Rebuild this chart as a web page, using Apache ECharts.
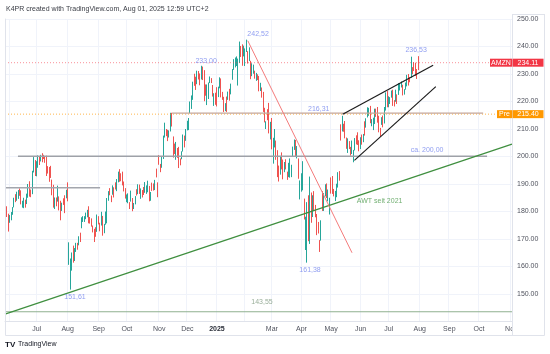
<!DOCTYPE html>
<html><head><meta charset="utf-8">
<script src="https://cdn.jsdelivr.net/npm/echarts/dist/echarts.min.js"></script>
<style>html,body{margin:0;padding:0;background:#fff}#c{width:550px;height:354px}</style>
</head><body><div id="c"></div>
<script>
// ---- calendar (trading days shown on the time scale) ----
const firstDay = '2024-05-29';
const lastDay = '2025-11-03';
const holidays = ['2024-06-19','2024-07-04','2024-09-02','2024-11-28','2024-12-25','2025-01-01','2025-01-09',
  '2025-01-20','2025-02-17','2025-04-18','2025-05-26','2025-06-19','2025-07-04','2025-09-01'];
const monthNames = ['Jan','Feb','Mar','Apr','May','Jun','Jul','Aug','Sep','Oct','Nov','Dec'];
const unlabeledMonths = ['2024-06', '2025-02'];

// ---- AMZN daily candles [open, high, low, close] ----
const may24 = [[180.5,183.0,180.0,182.0],[181.3,181.9,178.0,179.3],[178.3,179.2,172.7,176.4]];
const jun24 = [[177.7,178.7,175.9,178.3],[177.6,179.8,176.8,179.3],[180.1,181.6,178.8,181.3],[181.8,185.0,181.5,185.0],
  [184.9,186.3,183.4,184.3],[184.1,187.2,183.9,187.1],[187.1,187.8,184.6,187.2],[188.0,188.4,185.7,186.9],
  [186.1,187.7,182.6,183.8],[183.1,183.9,181.4,183.7],[182.5,185.0,181.2,184.1],[183.7,184.3,181.4,182.8],
  [182.9,186.5,182.7,186.1],[187.8,190.0,185.0,189.1],[189.3,191.0,185.4,185.6],[186.5,188.0,185.2,186.3],
  [186.9,194.8,186.3,193.6],[195.0,199.8,194.2,197.9],[197.7,198.7,192.9,193.3]];
const jul24 = [[193.5,198.3,192.8,197.2],[197.3,200.4,195.9,200.0],[199.9,200.0,196.9,197.6],[198.6,200.6,198.2,200.0],
  [200.0,201.2,197.9,199.3],[199.4,200.6,199.1,199.3],[200.0,200.1,197.7,199.8],[200.2,200.3,192.9,195.1],
  [194.8,196.5,193.8,194.5],[194.6,196.2,190.8,192.7],[195.6,196.6,192.2,193.0],[191.4,191.6,185.9,187.9],
  [189.6,189.7,181.4,183.8],[181.1,185.1,180.9,183.1],[185.0,185.1,181.9,182.6],[184.1,189.4,183.6,186.4],
  [183.2,185.5,180.4,180.8],[182.9,183.9,176.8,179.9],[180.4,183.2,180.2,182.5],[183.8,184.8,182.4,183.2],
  [184.7,185.9,179.4,181.7],[185.1,187.9,184.8,187.0]];
const aug24 = [[189.3,190.6,183.7,184.1],[166.8,168.8,160.6,167.9],[154.2,162.9,151.6,161.0],[161.7,165.1,158.5,161.9],
  [166.6,167.6,161.4,162.8],[165.2,166.7,162.0,165.8],[166.4,168.6,165.3,166.9],[168.1,168.6,166.1,166.8],
  [167.8,171.0,167.7,170.2],[172.1,172.3,168.9,170.1],[174.9,177.9,173.9,177.6],[177.0,178.3,176.2,177.1],
  [177.6,178.3,176.2,178.2],[177.9,179.6,177.2,178.9],[179.2,180.6,177.9,180.1],[181.4,181.9,175.7,176.1],
  [177.3,178.0,175.6,177.0],[176.7,177.5,174.5,175.5],[174.2,174.9,172.4,173.1],[173.7,173.7,168.9,170.8],
  [173.2,174.3,170.8,172.1],[172.8,178.9,172.6,178.5]];
const sep24 = [[177.6,178.3,175.3,176.3],[174.5,175.9,172.8,173.3],[175.0,179.9,174.9,177.9],[177.2,178.4,171.2,171.4],
  [174.5,175.5,172.1,175.4],[177.5,180.0,175.2,179.6],[180.1,184.9,175.7,184.5],[184.8,187.4,183.9,187.0],
  [187.0,188.5,185.9,186.5],[185.3,185.8,183.4,184.9],[186.9,189.5,186.1,186.9],[186.5,188.8,185.1,186.4],
  [190.0,190.6,188.0,189.9],[190.2,191.8,187.4,191.6],[191.6,194.5,190.6,193.9],[194.3,195.4,190.8,194.0],
  [193.8,193.9,191.0,192.5],[194.3,194.5,189.5,191.2],[190.7,190.9,187.3,188.0],[187.1,188.5,184.7,186.3]];
const oct24 = [[184.9,186.2,183.4,185.1],[184.4,186.6,183.0,184.8],[183.0,183.4,180.9,182.0],[185.8,187.6,183.6,186.5],
  [182.9,184.9,180.1,180.8],[181.9,183.1,180.9,182.7],[182.8,185.6,182.6,185.2],[187.1,188.1,185.8,186.7],
  [186.6,189.9,186.3,188.8],[189.8,189.8,186.4,187.5],[187.6,188.4,184.6,187.7],[187.1,187.8,185.1,186.9],
  [188.2,188.9,186.0,187.5],[187.2,190.7,186.8,189.0],[188.1,189.5,186.4,189.1],[188.4,191.2,187.0,189.7],
  [188.9,189.3,183.7,184.7],[185.3,187.1,183.9,186.4],[187.9,190.5,187.5,187.8],[189.6,190.2,187.6,188.4],
  [188.6,191.5,187.8,190.8],[194.7,195.6,192.4,192.7],[190.5,190.6,185.2,186.4]];
const nov24 = [[199.0,200.5,197.0,197.9],[196.5,197.3,194.3,195.8],[196.0,199.8,195.9,199.5],[200.0,207.6,199.1,207.1],
  [207.4,212.3,206.9,210.1],[209.7,210.0,207.4,208.2],[208.5,209.7,205.6,206.8],[208.4,209.5,206.9,208.9],
  [209.4,215.9,209.1,214.1],[214.2,215.9,210.9,211.5],[206.8,207.3,199.6,202.6],[204.2,204.7,200.9,201.7],
  [199.3,205.3,198.8,204.6],[203.0,203.1,199.5,202.9],[203.5,203.5,195.8,198.4],[198.2,199.3,196.8,197.1],
  [199.3,201.9,199.0,201.5],[201.9,208.0,201.8,207.9],[207.0,207.6,203.3,205.7],[205.8,210.0,205.7,207.9]];
const dec24 = [[210.0,213.0,209.5,210.7],[210.3,214.0,209.6,213.4],[216.0,220.0,215.8,218.2],[218.0,222.2,217.3,220.6],
  [220.8,227.2,220.6,227.0],[227.2,230.1,225.7,226.1],[226.1,229.0,224.2,225.0],[226.4,231.2,226.3,230.3],
  [229.8,231.1,228.0,229.0],[228.4,230.2,225.9,227.5],[230.2,233.0,228.0,232.9],[232.4,232.7,227.8,231.2],
  [230.8,231.4,220.1,220.5],[224.9,226.2,222.1,223.3],[219.8,226.2,218.7,224.9],[225.0,226.9,220.9,225.1],
  [226.9,229.1,226.7,229.1],[228.5,228.5,226.7,227.1],[225.6,226.0,221.8,223.8],[220.1,223.0,218.4,221.3],
  [222.0,223.2,218.8,219.4]];
const jan25 = [[222.0,225.2,218.2,220.2],[222.5,225.4,221.6,224.2],[226.8,228.8,224.8,227.6],[227.9,228.4,221.5,222.1],
  [223.2,223.5,220.6,222.1],[220.4,221.7,216.2,218.9],[218.1,219.4,216.5,218.5],[220.4,221.8,216.2,217.8],
  [222.8,223.6,220.6,223.4],[224.4,224.6,220.3,220.7],[225.8,226.5,222.6,225.9],[228.9,231.8,227.9,230.7],
  [232.0,235.4,231.5,235.0],[234.1,236.0,232.4,235.4],[234.5,236.4,232.9,234.9],[226.2,235.6,225.8,235.4],
  [234.3,241.8,234.0,238.2],[239.0,240.2,236.2,237.1],[238.7,240.8,233.0,234.6],[236.5,240.3,236.4,237.7]];
const feb25 = [[234.1,239.3,232.9,237.4],[239.0,242.5,238.0,242.1],[237.0,238.3,233.8,236.2],[238.0,239.7,234.7,238.8],
  [232.5,234.8,228.1,229.2],[230.6,233.9,229.2,233.1],[231.9,233.4,230.1,232.8],[230.5,231.2,228.3,228.9],
  [228.9,230.4,227.5,230.4],[229.2,229.9,227.8,228.7],[228.8,229.3,223.7,226.7],[225.5,226.8,223.8,226.6],
  [224.8,225.1,221.4,222.9],[223.3,223.5,216.2,216.6],[217.5,217.7,212.4,212.7],[211.6,212.8,210.0,212.8],
  [214.9,217.2,213.2,214.4],[218.3,219.5,208.4,208.7],[208.7,212.6,206.2,212.3]];
const mar25 = [[213.4,214.0,202.6,205.0],[200.1,206.8,197.4,203.8],[204.8,210.0,203.3,208.4],[204.4,205.8,198.8,200.7],
  [199.5,202.3,192.5,199.3],[195.6,196.7,190.9,194.5],[193.9,200.2,193.4,196.6],[200.7,201.5,195.3,198.9],
  [198.2,198.9,191.7,193.9],[197.4,198.0,194.3,198.0],[198.8,199.0,195.3,195.7],[194.0,194.5,191.5,192.8],
  [193.4,197.7,192.5,195.5],[193.1,199.3,192.3,195.0],[192.9,197.0,192.5,196.2],[200.0,203.6,199.9,203.3],
  [203.6,206.2,202.4,205.7],[205.8,206.0,199.9,201.1],[200.9,203.8,199.3,201.4],[198.4,199.3,191.9,192.7],
  [188.2,191.3,184.4,190.3]];
const apr25 = [[187.9,193.9,187.2,192.2],[187.7,198.3,187.7,196.0],[183.0,184.7,177.1,178.4],[167.1,178.1,166.0,171.0],
  [162.0,183.4,161.4,175.3],[185.2,185.9,169.2,170.7],[172.1,192.7,168.2,191.1],[185.4,186.9,175.9,181.2],
  [179.9,185.9,178.0,184.9],[186.8,187.4,180.2,182.1],[181.4,182.4,177.9,179.6],[176.3,179.1,171.4,174.3],
  [176.0,176.2,172.0,172.6],[169.6,169.6,165.3,167.3],[169.8,176.8,169.4,173.2],[183.5,187.4,180.2,180.6],
  [180.9,186.7,180.2,186.5],[187.6,189.9,185.5,189.0],[190.1,190.2,184.9,187.7],[184.0,188.0,183.7,187.4],
  [182.2,185.0,178.9,184.4]];
const may25 = [[190.6,192.4,186.5,190.2],[191.4,192.9,186.4,190.0],[186.5,188.2,185.5,186.4],[184.3,187.5,183.8,185.0],
  [185.6,190.1,185.2,188.7],[191.4,194.3,188.7,192.1],[193.4,194.7,191.2,193.1],[210.7,211.7,205.8,208.6],
  [211.1,214.8,209.1,211.4],[211.5,211.9,209.0,210.3],[210.9,212.9,206.6,208.5],[206.9,206.9,202.8,205.6],
  [201.6,206.6,201.3,206.2],[204.6,205.6,202.7,204.1],[201.6,203.5,200.3,201.1],[201.4,205.8,200.9,203.1],
  [198.9,202.4,197.9,201.0],[203.1,206.7,202.2,206.0],[205.9,207.7,204.4,204.7],[208.0,208.8,204.2,205.7],
  [205.0,205.9,201.9,205.0]];
const jun25 = [[205.0,207.0,202.7,206.7],[207.1,208.0,204.3,205.7],[206.6,208.2,205.2,207.2],[209.6,212.8,207.6,207.9],
  [212.4,213.9,210.5,213.6],[214.8,217.9,214.2,217.0],[216.8,217.7,214.8,217.6],[217.4,218.4,212.1,213.2],
  [211.8,213.6,211.0,213.2],[210.0,214.1,209.6,212.1],[212.3,217.4,211.8,216.1],[215.2,217.4,214.4,214.8],
  [215.1,218.0,212.3,212.5],[214.7,214.8,208.8,209.7],[209.8,210.4,207.3,208.5],[212.1,214.3,211.5,212.8],
  [214.6,214.9,210.6,212.0],[213.1,218.0,212.0,217.1],[219.9,223.3,216.7,223.3],[223.5,223.8,217.9,219.4]];
const jul25 = [[219.5,221.9,217.9,220.5],[219.7,221.6,219.1,219.9],[221.8,224.0,221.4,223.4],[223.0,224.3,218.4,219.4],
  [219.9,220.5,218.2,219.8],[221.1,224.3,219.9,222.5],[222.3,222.6,219.1,220.7],[223.6,226.7,222.4,225.0],
  [225.1,226.7,224.0,225.7],[226.2,227.3,225.1,226.4],[225.9,226.1,222.2,223.2],[223.3,224.5,222.5,223.9],
  [224.9,226.9,224.3,226.1],[225.8,229.7,225.5,229.3],[229.7,230.0,225.8,227.5],[228.5,228.8,227.0,228.3],
  [229.6,236.3,228.6,232.2],[232.2,232.5,229.9,231.4],[233.4,234.3,231.1,232.8],[233.9,234.1,229.3,231.0],
  [231.7,231.8,228.2,230.2],[235.8,236.5,231.4,234.1]];

// ---- price scale ----
const priceMin = 140, priceMax = 250, priceStep = 10;
const lastPrice = 234.11;
const prePrice = 215.40;

// ---- drawings: [bar index, price] ----
const awtLine = [[-0.5, 142.7], [359.5, 204.5]];
const downTrend = [[171.9, 242.1], [245.9, 165.0]];
const wedgeUpper = [[239.3, 215.35], [303.5, 233.16]];
const wedgeLower = [[247.6, 198.6], [305.4, 225.4]];
const level200 = [[8.7, 200.1], [341.8, 200.1]];
const level188 = [[-0.5, 188.6], [67, 188.6]];
const level216 = [[118.1, 215.8], [339, 215.8]];
const level143 = [[-0.5, 143.55], [359.5, 143.55]];
const annotations = [
  ['242,52', 179.2, 244.5, 'blue'], ['233,00', 142.3, 234.7, 'blue'], ['216,31', 222.3, 217.4, 'blue'],
  ['236,53', 291.4, 238.7, 'blue'], ['ca. 200,00', 299.2, 202.3, 'blue'], ['161,38', 216.1, 158.7, 'blue'],
  ['151,61', 49.2, 148.8, 'blue'], ['143,55', 182, 147.1, 'gray'], ['AWT seit 2021', 265.5, 183.9, 'green']
];

// ---------------------------------------------------------------
const pad = n => String(n).padStart(2, '0');
const dates = [];
{
  const d = new Date(firstDay + 'T00:00:00Z');
  const end = new Date(lastDay + 'T00:00:00Z');
  while (d <= end) {
    const s = d.getUTCFullYear() + '-' + pad(d.getUTCMonth() + 1) + '-' + pad(d.getUTCDate());
    const wd = d.getUTCDay();
    if (wd !== 0 && wd !== 6 && !holidays.includes(s)) dates.push(s);
    d.setUTCDate(d.getUTCDate() + 1);
  }
}
const monthStart = new Set(), monthLabel = new Set();
dates.forEach((s, i) => {
  if (i > 0 && s.slice(0, 7) !== dates[i - 1].slice(0, 7)) {
    monthStart.add(i);
    if (!unlabeledMonths.includes(s.slice(0, 7))) monthLabel.add(i);
  }
});
const candles = [].concat(may24, jun24, jul24, aug24, sep24, oct24, nov24, dec24, jan25, feb25, mar25, apr25, may25, jun25, jul25)
  .map(r => [r[0], r[3], r[2], r[1]]);

const FONT = '"Liberation Sans", Arial, sans-serif';
const UP = '#26a69a', DOWN = '#ef5350';
const annoColors = {blue: '#7486ee', gray: '#7f9a80', green: '#4c9a4c'};

function drawing(data, color, width, type) {
  return {type: 'line', xAxisIndex: 1, yAxisIndex: 0, data, symbol: 'none', silent: true,
    clip: true, lineStyle: {color, width, type: type || 'solid'}, z: 5};
}
const nBars = dates.length;
const full = v => [[-0.5, v], [nBars - 0.5, v]];

const chart = echarts.init(document.getElementById('c'), null, {renderer: 'canvas'});
chart.setOption({
  animation: false,
  backgroundColor: '#ffffff',
  textStyle: {fontFamily: FONT},
  grid: {left: 5, right: 38, top: 19, bottom: 32.5},
  xAxis: [{
    type: 'category', data: dates, boundaryGap: true,
    axisLine: {show: true, lineStyle: {color: '#e0e3eb'}},
    axisTick: {show: false},
    axisLabel: {
      interval: i => monthLabel.has(i), fontSize: 7, color: '#50535e', margin: 4, fontFamily: FONT,
      formatter: v => v.slice(5, 7) === '01' ? '{b|' + v.slice(0, 4) + '}' : monthNames[+v.slice(5, 7) - 1],
      rich: {b: {fontWeight: 'bold', fontSize: 7, color: '#2a2e39', fontFamily: FONT}}
    },
    splitLine: {show: true, interval: i => monthStart.has(i), lineStyle: {color: '#f0f3fa', width: 1}}
  }, {
    type: 'value', min: -0.5, max: nBars - 0.5, show: false
  }],
  yAxis: [{
    type: 'value', position: 'right', min: priceMin, max: priceMax, interval: priceStep,
    axisLine: {show: true, lineStyle: {color: '#e0e3eb'}},
    axisTick: {show: false},
    axisLabel: {formatter: v => v === priceMin ? '' : v.toFixed(2), fontSize: 7, color: '#50535e', margin: 5, fontFamily: FONT},
    splitLine: {show: true, lineStyle: {color: '#f0f3fa', width: 1}}
  }],
  series: [
    drawing(full(lastPrice), 'rgba(242,54,69,0.55)', 1, [1, 2]),
    drawing(full(prePrice), 'rgba(255,152,0,0.7)', 1, [1, 2]),
    {
      type: 'candlestick', xAxisIndex: 0, yAxisIndex: 0, data: candles, barWidth: 1, z: 3,
      itemStyle: {color: UP, color0: DOWN, borderColor: UP, borderColor0: DOWN, borderWidth: 1}
    },
    drawing(level143, '#8fb08f', 1.2),
    drawing(level188, '#a3a6ad', 1.5),
    drawing(level200, '#9ea1a8', 1.5),
    drawing(level216, '#c4a699', 1.2),
    drawing(awtLine, '#3f8f3f', 1.2),
    drawing(downTrend, '#f47c7c', 1),
    drawing(wedgeUpper, '#1c1c1c', 1.2),
    drawing(wedgeLower, '#1c1c1c', 1.2),
    {
      type: 'scatter', xAxisIndex: 1, yAxisIndex: 0, symbolSize: 1, silent: true, z: 6,
      itemStyle: {color: 'rgba(0,0,0,0)'},
      data: annotations.map(a => ({value: [a[1], a[2]], label: {formatter: a[0], color: annoColors[a[3]]}})),
      label: {show: true, position: 'inside', fontSize: 7, fontFamily: FONT}
    }
  ]
});

const yLast = chart.convertToPixel({yAxisIndex: 0}, lastPrice);
const yPre = chart.convertToPixel({yAxisIndex: 0}, prePrice);
function box(x, y, w, h, fill, text) {
  return [{type: 'rect', shape: {x, y: y - h / 2, width: w, height: h}, style: {fill}, z: 20},
    {type: 'text', x: x + w / 2, y, style: {text, fill: '#fff', fontSize: 7, fontFamily: FONT, align: 'center', verticalAlign: 'middle'}, z: 21}];
}
const border = '#e0e3eb';
chart.setOption({
  graphic: [
    {type: 'rect', shape: {x: 513, y: 322, width: 37, height: 13}, style: {fill: '#fff'}, z: 15},
    {type: 'text', x: 6, y: 9, style: {text: 'K4PR created with TradingView.com, Aug 01, 2025 12:59 UTC+2', fill: '#3a3d45', fontSize: 7, fontFamily: FONT, verticalAlign: 'middle'}},
    {type: 'line', shape: {x1: 512.5, y1: 14, x2: 512.5, y2: 335.5}, style: {stroke: border, lineWidth: 1}, z: 16},
    {type: 'line', shape: {x1: 544.5, y1: 14, x2: 544.5, y2: 335.5}, style: {stroke: border, lineWidth: 1}, z: 16},
    {type: 'line', shape: {x1: 512.5, y1: 14.5, x2: 544.5, y2: 14.5}, style: {stroke: border, lineWidth: 1}, z: 16},
    {type: 'line', shape: {x1: 5.5, y1: 19, x2: 5.5, y2: 335.5}, style: {stroke: border, lineWidth: 1}, z: 16},
    {type: 'line', shape: {x1: 5.5, y1: 335.5, x2: 544.5, y2: 335.5}, style: {stroke: border, lineWidth: 1}, z: 16},
    {type: 'text', x: 5, y: 344.5, style: {text: 'TV', fill: '#131722', fontSize: 8, fontWeight: 'bold', fontFamily: FONT, verticalAlign: 'middle'}},
    {type: 'text', x: 18, y: 344.5, style: {text: 'TradingView', fill: '#131722', fontSize: 7, fontFamily: FONT, verticalAlign: 'middle'}},
    ...box(490, yLast, 22, 8, '#f23645', 'AMZN'),
    ...box(512.5, yLast, 31, 8, '#f23645', lastPrice.toFixed(2)),
    ...box(497, yPre, 15, 8, '#ff9800', 'Pre'),
    ...box(512.5, yPre, 31, 8, '#ff9800', prePrice.toFixed(2))
  ]
});
</script>
</body></html>
